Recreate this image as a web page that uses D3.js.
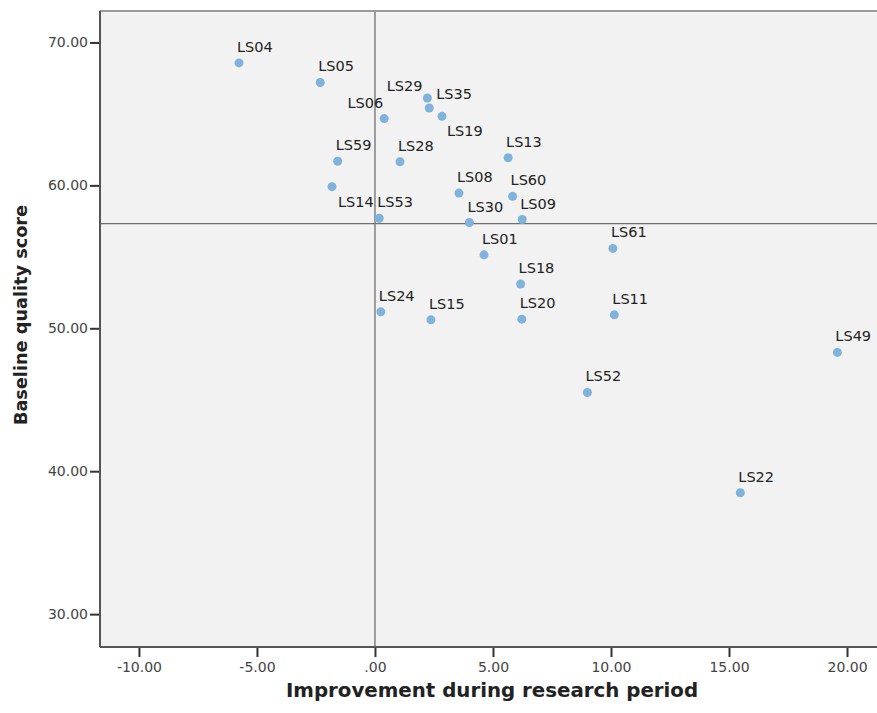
<!DOCTYPE html>
<html>
<head>
<meta charset="utf-8">
<script src="https://cdn.jsdelivr.net/npm/d3@7"></script>
<style>
  body { margin: 0; background: #fff; }
  svg text { font-family: "DejaVu Sans", sans-serif; }
</style>
</head>
<body>
<div id="chart"></div>
<script>
// site labels and their two scores
var sites = ["LS04", "LS05", "LS29", "LS35", "LS06", "LS19", "LS13", "LS59", "LS28", "LS14",
             "LS08", "LS60", "LS53", "LS30", "LS09", "LS01", "LS61", "LS18", "LS24", "LS15",
             "LS20", "LS11", "LS49", "LS52", "LS22"];
var improvement = [-5.76, -2.32, 2.22, 2.30, 0.39, 2.84, 5.64, -1.58, 1.06, -1.82,
                   3.56, 5.83, 0.18, 4.00, 6.24, 4.62, 10.08, 6.17, 0.25, 2.37,
                   6.22, 10.14, 19.59, 9.00, 15.48];
var baseline = [68.57, 67.20, 66.11, 65.41, 64.67, 64.83, 61.93, 61.69, 61.65, 59.91,
                59.46, 59.23, 57.70, 57.40, 57.61, 55.14, 55.59, 53.10, 51.15, 50.59,
                50.64, 50.94, 48.31, 45.51, 38.49];

var xTicks = [-10, -5, 0, 5, 10, 15, 20];
var yTicks = [30, 40, 50, 60, 70];
var xDomain = [-11.65, 21.27];
var yDomain = [27.7, 72.2];
var refX = 0;       // vertical reference line
var refY = 57.32;   // horizontal reference line (mean baseline)

// labels that don't sit in the usual spot above the dot
var labelPlacement = {
  LS29: { dx: -5, dy: -7, anchor: "end" },
  LS35: { dx: 7, dy: -9, anchor: "start" },
  LS06: { dx: -1, dy: -11, anchor: "end" },
  LS19: { dx: 5, dy: 20, anchor: "start" },
  LS14: { dx: 6, dy: 20, anchor: "start" }
};

var width = 877, height = 713;
var plotLeft = 100, plotRight = 877, plotTop = 11, plotBottom = 647;

var svg = d3.select("#chart").append("svg")
  .attr("width", width)
  .attr("height", height);

var x = d3.scaleLinear().domain(xDomain).range([plotLeft, plotRight]);
var y = d3.scaleLinear().domain(yDomain).range([plotBottom, plotTop]);

// SPSS style: plain hyphen for negatives, ".00" for zero
var twoDec = d3.formatLocale({ decimal: ".", thousands: ",", grouping: [3], currency: ["", ""], minus: "-" }).format(".2f");
var fmt = function (d) { return d === 0 ? ".00" : twoDec(d); };

// plot background
svg.append("rect")
  .attr("x", plotLeft).attr("y", plotTop)
  .attr("width", plotRight - plotLeft).attr("height", plotBottom - plotTop)
  .attr("fill", "#f2f2f2");

// reference lines
svg.append("line")
  .attr("x1", x(refX)).attr("x2", x(refX))
  .attr("y1", plotTop).attr("y2", plotBottom)
  .attr("stroke", "#6e6e6e").attr("stroke-width", 1.3);
svg.append("line")
  .attr("x1", plotLeft).attr("x2", plotRight)
  .attr("y1", y(refY)).attr("y2", y(refY))
  .attr("stroke", "#6e6e6e").attr("stroke-width", 1.3);

// borders
svg.append("line")
  .attr("x1", plotLeft).attr("x2", plotRight).attr("y1", plotTop).attr("y2", plotTop)
  .attr("stroke", "#9a9a9a").attr("stroke-width", 2);
svg.append("line")
  .attr("x1", plotLeft).attr("x2", plotRight).attr("y1", plotBottom).attr("y2", plotBottom)
  .attr("stroke", "#555").attr("stroke-width", 2);
svg.append("line")
  .attr("x1", plotLeft).attr("x2", plotLeft).attr("y1", plotTop).attr("y2", plotBottom)
  .attr("stroke", "#555").attr("stroke-width", 2);

// axes
var yAxis = svg.append("g")
  .attr("transform", "translate(" + (plotLeft - 1) + ",0)")
  .call(d3.axisLeft(y).tickValues(yTicks).tickFormat(fmt).tickSize(9).tickPadding(2));
var xAxis = svg.append("g")
  .attr("transform", "translate(0," + (plotBottom + 1) + ")")
  .call(d3.axisBottom(x).tickValues(xTicks).tickFormat(fmt).tickSize(9).tickPadding(5));

[xAxis, yAxis].forEach(function (g) {
  g.select(".domain").remove();
  g.selectAll(".tick line").attr("stroke", "#333").attr("stroke-width", 2);
  g.selectAll(".tick text")
    .attr("fill", "#444")
    .style("font-size", "14px");
});

// points
svg.append("g")
  .selectAll("circle")
  .data(sites)
  .enter()
  .append("circle")
    .attr("cx", function (d, i) { return x(improvement[i]); })
    .attr("cy", function (d, i) { return y(baseline[i]); })
    .attr("r", 4.5)
    .attr("fill", "#7fb3dc");

// point labels
svg.append("g")
  .selectAll("text")
  .data(sites)
  .enter()
  .append("text")
    .attr("x", function (d, i) {
      var p = labelPlacement[d];
      return x(improvement[i]) + (p ? p.dx : -2);
    })
    .attr("y", function (d, i) {
      var p = labelPlacement[d];
      return y(baseline[i]) + (p ? p.dy : -11);
    })
    .attr("text-anchor", function (d) { return labelPlacement[d] ? labelPlacement[d].anchor : "start"; })
    .attr("fill", "#222")
    .style("font-size", "14.5px")
    .text(function (d) { return d; });

// axis titles
svg.append("text")
  .attr("x", 492)
  .attr("y", 697)
  .attr("text-anchor", "middle")
  .attr("fill", "#222")
  .style("font-size", "19.8px")
  .style("font-weight", "bold")
  .text("Improvement during research period");

svg.append("text")
  .attr("transform", "translate(27," + 315 + ") rotate(-90)")
  .attr("text-anchor", "middle")
  .attr("fill", "#222")
  .style("font-size", "17.7px")
  .style("font-weight", "bold")
  .text("Baseline quality score");
</script>
</body>
</html>
